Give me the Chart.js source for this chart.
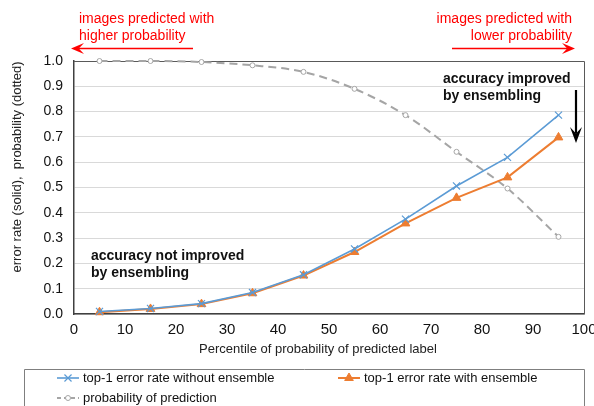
<!DOCTYPE html>
<html>
<head>
<meta charset="utf-8">
<script src="https://cdn.jsdelivr.net/npm/chart.js@4/dist/chart.umd.min.js"></script>
<style>
  html, body { margin: 0; padding: 0; background: #fff; }
  #wrap { width: 594px; height: 406px; position: relative; }
</style>
</head>
<body>
<div id="wrap"><canvas id="chart" width="594" height="406"></canvas></div>
<script>
// values
const percentiles = [5, 15, 25, 35, 45, 55, 65, 75, 85, 95];
const errWithout = [0.01, 0.022, 0.041, 0.085, 0.155, 0.257, 0.375, 0.506, 0.619, 0.786];
const errWith = [0.007, 0.02, 0.039, 0.082, 0.152, 0.245, 0.358, 0.459, 0.54, 0.698];
const probPred = [1.0, 1.0, 0.996, 0.983, 0.957, 0.89, 0.786, 0.641, 0.496, 0.305];
const xTicks = [0, 10, 20, 30, 40, 50, 60, 70, 80, 90, 100];
const yTicks = [0, 0.1, 0.2, 0.3, 0.4, 0.5, 0.6, 0.7, 0.8, 0.9, 1.0];

const FONT = 'Helvetica, Arial, "Liberation Sans", sans-serif';
const toPoints = (ys) => percentiles.map((x, i) => ({ x: x, y: ys[i] }));

// arrows, notes, axis titles and the boxed legend
const decorations = {
  id: 'decorations',
  beforeDatasetsDraw(chart) {
    const { ctx, chartArea: a } = chart;
    ctx.save();
    ctx.strokeStyle = '#595959';
    ctx.lineWidth = 1;
    ctx.beginPath();
    ctx.moveTo(a.left, a.top + 0.5);
    ctx.lineTo(a.right + 0.5, a.top + 0.5);
    ctx.lineTo(a.right + 0.5, a.bottom);
    ctx.stroke();
    ctx.restore();
  },
  afterDraw(chart) {
    const { ctx } = chart;
    ctx.save();

    const arrow = (x1, y1, x2, y2, color, width, head, headW) => {
      const ang = Math.atan2(y2 - y1, x2 - x1);
      const c = Math.cos(ang), s = Math.sin(ang);
      ctx.strokeStyle = color;
      ctx.fillStyle = color;
      ctx.lineWidth = width;
      ctx.beginPath();
      ctx.moveTo(x1, y1);
      ctx.lineTo(x2 - c * head * 0.6, y2 - s * head * 0.6);
      ctx.stroke();
      ctx.beginPath();
      ctx.moveTo(x2, y2);
      ctx.lineTo(x2 - c * head - s * headW, y2 - s * head + c * headW);
      ctx.lineTo(x2 - c * head * 0.6, y2 - s * head * 0.6);
      ctx.lineTo(x2 - c * head + s * headW, y2 - s * head - c * headW);
      ctx.closePath();
      ctx.fill();
    };

    // red notes
    ctx.fillStyle = '#ff0000';
    ctx.font = '14px ' + FONT;
    ctx.textBaseline = 'middle';
    ctx.textAlign = 'left';
    ctx.fillText('images predicted with', 79, 19);
    ctx.fillText('higher probability', 79, 36);
    ctx.textAlign = 'right';
    ctx.fillText('images predicted with', 572, 19);
    ctx.fillText('lower probability', 572, 36);
    arrow(193, 48.5, 71, 48.5, '#ff0000', 1.6, 13, 5.5);
    arrow(452, 48.5, 575, 48.5, '#ff0000', 1.6, 13, 5.5);

    // black notes
    ctx.fillStyle = '#111';
    ctx.font = 'bold 14px ' + FONT;
    ctx.textAlign = 'left';
    ctx.fillText('accuracy improved', 443, 79);
    ctx.fillText('by ensembling', 443, 96);
    ctx.fillText('accuracy not improved', 91, 256);
    ctx.fillText('by ensembling', 91, 273);
    arrow(576, 90, 576, 143, '#000', 2.2, 16, 6);

    // axis titles
    ctx.fillStyle = '#222';
    ctx.font = '13px ' + FONT;
    ctx.textAlign = 'center';
    ctx.fillText('Percentile of probability of predicted label', 318, 349);
    ctx.save();
    ctx.translate(17, 167);
    ctx.rotate(-Math.PI / 2);
    ctx.fillText('error rate (solid),  probability (dotted)', 0, 0);
    ctx.restore();

    // legend box
    ctx.strokeStyle = '#7f7f7f';
    ctx.lineWidth = 1;
    ctx.beginPath();
    ctx.moveTo(24.5, 420);
    ctx.lineTo(24.5, 369.5);
    ctx.lineTo(584.5, 369.5);
    ctx.lineTo(584.5, 420);
    ctx.stroke();

    const slots = [[57, 378], [338, 378], [57, 398]];
    chart.data.datasets.forEach((ds, i) => {
      const [lx, ly] = slots[i];
      ctx.save();
      ctx.strokeStyle = ds.borderColor;
      ctx.lineWidth = ds.borderWidth;
      ctx.setLineDash(ds.borderDash ? [4, 3] : []);
      ctx.beginPath();
      ctx.moveTo(lx, ly);
      ctx.lineTo(lx + 22, ly);
      ctx.stroke();
      ctx.setLineDash([]);
      ctx.fillStyle = ds.pointBackgroundColor;
      ctx.strokeStyle = ds.pointBorderColor;
      ctx.lineWidth = ds.pointBorderWidth;
      Chart.helpers.drawPoint(ctx, {
        pointStyle: ds.pointStyle,
        radius: ds.pointRadius,
        borderWidth: ds.pointBorderWidth,
        rotation: 0
      }, lx + 11, ly);
      ctx.restore();
      ctx.fillStyle = '#111';
      ctx.font = '13px ' + FONT;
      ctx.textAlign = 'left';
      ctx.fillText(ds.label, lx + 26, ly);
    });

    ctx.restore();
  }
};

new Chart(document.getElementById('chart'), {
  type: 'line',
  data: {
    datasets: [
      {
        label: 'top-1 error rate without ensemble',
        data: toPoints(errWithout),
        borderColor: '#5b9bd5',
        borderWidth: 1.6,
        pointStyle: 'crossRot',
        pointRadius: 5,
        pointBorderColor: '#5b9bd5',
        pointBackgroundColor: '#5b9bd5',
        pointBorderWidth: 1.2,
        tension: 0
      },
      {
        label: 'top-1 error rate with ensemble',
        data: toPoints(errWith),
        borderColor: '#ed7d31',
        borderWidth: 2,
        pointStyle: 'triangle',
        pointRadius: 5,
        pointBorderColor: '#ed7d31',
        pointBackgroundColor: '#ed7d31',
        pointBorderWidth: 1,
        tension: 0
      },
      {
        label: 'probability of prediction',
        data: toPoints(probPred),
        borderColor: '#a5a5a5',
        borderWidth: 2,
        borderDash: [8, 5],
        pointStyle: 'circle',
        pointRadius: 2.5,
        pointBorderColor: '#a5a5a5',
        pointBackgroundColor: '#ffffff',
        pointBorderWidth: 1,
        cubicInterpolationMode: 'monotone'
      }
    ]
  },
  options: {
    responsive: false,
    animation: false,
    clip: false,
    layout: { padding: { left: 0, right: 10, top: 61, bottom: 52 } },
    plugins: {
      legend: { display: false },
      tooltip: { enabled: false }
    },
    scales: {
      x: {
        type: 'linear',
        min: 0,
        max: 100,
        afterBuildTicks: (scale) => { scale.ticks = xTicks.map(v => ({ value: v })); },
        afterFit: (scale) => {
          scale.height = 40;
          scale.paddingLeft = 0;
          scale.paddingRight = 0;
        },
        grid: { display: false, drawTicks: false },
        border: { display: true, color: '#404040', width: 1.5 },
        ticks: { color: '#111', font: { family: FONT, size: 15 }, padding: 7, maxRotation: 0 }
      },
      y: {
        min: 0,
        max: 1,
        afterBuildTicks: (scale) => { scale.ticks = yTicks.map(v => ({ value: v })); },
        afterFit: (scale) => { scale.width = 74; },
        grid: { color: '#d9d9d9', lineWidth: 1, drawTicks: false },
        border: { display: true, color: '#404040', width: 1.5 },
        ticks: {
          color: '#111',
          font: { family: FONT, size: 14 },
          padding: 11,
          callback: (v) => v.toFixed(1)
        }
      }
    }
  },
  plugins: [decorations]
});
</script>
</body>
</html>
